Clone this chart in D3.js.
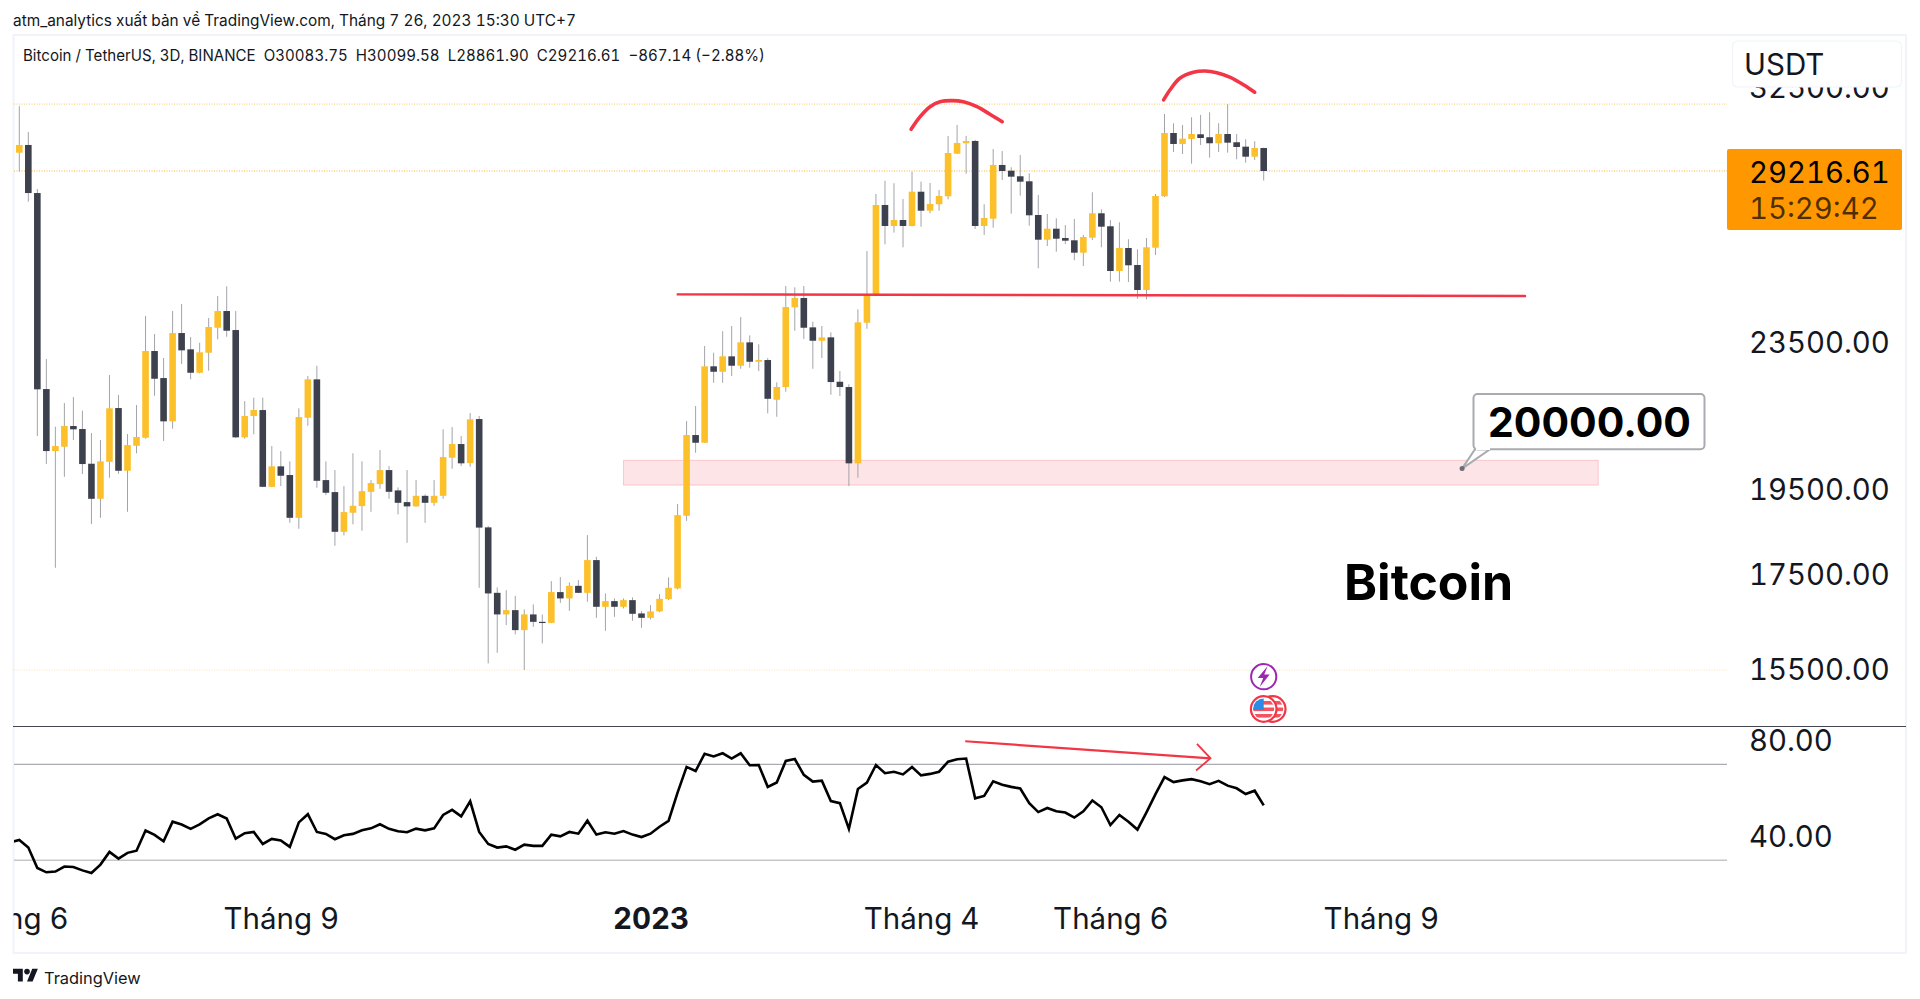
<!DOCTYPE html>
<html>
<head>
<meta charset="utf-8">
<script src="https://cdn.jsdelivr.net/npm/d3@7"></script>
<style>
html,body{margin:0;padding:0;background:#fff;overflow:hidden}
svg{display:block}
text{font-family:Inter,"Liberation Sans",sans-serif;fill:#131722;font-variant-numeric:tabular-nums;font-feature-settings:"tnum" 1}
</style>
</head>
<body>
<svg id="c" width="1920" height="999"></svg>
<script>
const firstCandle = -1;
const opens = [30470,29906,30201,28408,22133,20452,20565,21115,21034,20125,19246,20175,21604,19945,20591,20802,23231,22445,21241,23769,23281,22597,23180,23930,24445,23860,20813,21385,21549,19542,20058,19837,18786,21339,22408,19710,19411,18454,18907,19068,19418,19610,19963,19453,19165,19061,19319,19148,19319,20279,20636,20142,21303,18558,17074,16611,16702,16282,16611,16455,16434,17090,16953,17227,17074,17801,16773,16895,16773,16916,16632,16539,16675,16938,17170,18834,20874,20670,22783,22626,23074,22800,23489,22916,22966,21833,22190,24560,24853,23942,23537,23639,22340,22190,20135,24083,24971,27979,27241,27449,27241,28456,27776,28004,28291,29868,30267,30356,27241,27495,29442,29228,29021,28836,27625,26769,27147,26827,26749,26330,26838,27685,27231,25723,26488,25921,25108,26498,28291,30665,30240,30433,30615,30500,30267,30626,30306,30136,29754,30083.75];
const highs = [30560,31735,30704,28555,22995,21096,21742,21909,21530,20927,20741,22531,21965,20900,21687,24290,23739,23025,24445,24664,23649,23477,24228,24917,25227,24445,21797,21890,21890,20583,20452,20186,21596,22503,22800,20186,19963,19560,20393,20186,19710,20478,20065,19527,19963,19710,19354,19710,21026,21087,20847,21467,21385,18589,17192,17133,17009,16717,16824,16611,17331,17420,17302,17353,18377,17875,17061,16953,16953,16975,16681,16809,17046,17413,19117,21249,21659,23379,23180,23821,23982,24259,23699,23430,23025,22322,25235,25195,25235,24114,23982,23790,22646,22266,24498,26387,28374,28858,28764,28193,29191,28822,28775,28518,30550,30980,30550,30394,28004,30047,29971,29356,29819,29132,28338,27660,27509,27275,27484,26931,28435,27826,27449,27369,26783,26444,26827,28374,31417,31046,30980,31286,31377,31485,31046,31815,30626,30421,30344,30099.58];
const lows = [29860,29191,28097,20847,20117,17627,19793,20741,19862,18636,18786,19768,19869,18930,20393,20776,21945,20715,21042,22850,22408,22580,22655,23579,23658,20795,20776,20893,19535,19535,19560,18667,18525,21122,19518,19337,18128,18370,18629,18478,18930,19492,19246,18868,18198,19052,18667,19075,19246,19996,20065,20047,17183,15606,15819,16386,16193,15476,16351,16009,16428,16858,16687,17068,16880,16539,16268,16560,16738,16476,16330,16505,16660,16916,17148,18714,20408,20662,22311,22311,22503,22712,22742,22646,21459,21366,22057,23839,23588,22712,23025,21973,21937,19560,19768,23899,24917,26613,27010,26511,27225,27216,27685,27776,28182,29857,29117,27137,26931,27182,28884,27670,28313,27251,25811,26555,26363,26623,26076,25888,26759,26511,25375,25375,25366,24831,24812,26253,28266,29933,29857,29491,30201,29716,29933,29906,29656,29528,29629,28861.90];
const closes = [29906,30201,28408,22125,20452,20583,21115,21026,20117,19246,20186,21596,19945,20609,20821,23231,22425,21241,23769,23251,22597,23192,23952,24445,23839,20813,21385,21549,19542,20058,19819,18786,21358,22408,19692,19394,18454,18923,19075,19435,19635,19963,19418,19148,19061,19319,19148,19319,20297,20636,20135,21295,18553,17061,16611,16702,16282,16611,16455,16434,17090,16953,17227,17074,17801,16773,16895,16773,16916,16624,16539,16675,16944,17184,18851,20874,20670,22783,22626,23074,22800,23489,22916,22966,21860,22190,24570,24853,23930,23537,23639,22331,22190,20135,24095,24980,27979,27241,27449,27241,28456,27776,28015,28302,29895,30278,30356,27241,27519,29442,29217,29006,28822,27614,26769,27147,26803,26735,26330,26862,27685,27216,25723,26488,25911,25108,26511,28302,30665,30240,30445,30626,30470,30267,30626,30290,30124,29754,30084,29216.61];
const rsiValues = [37.5,38.5,35.3,26.8,25.0,25.3,27.4,27.2,25.8,24.7,28.2,33.5,30.7,33.1,34.0,42.4,40.6,37.9,46.1,44.9,43.1,45.0,47.5,49.2,47.4,39.0,41.3,41.8,36.8,38.9,38.3,35.6,45.8,49.2,41.8,41.0,38.8,40.4,41.0,42.5,43.3,45.0,43.1,42.1,41.7,43.2,42.5,43.3,48.9,51.0,48.3,54.6,41.8,36.8,35.3,35.8,34.4,36.5,36.0,36.0,40.7,40.0,41.8,41.1,46.5,40.7,41.7,41.1,42.2,40.7,39.7,41.1,44.0,46.4,58.2,68.9,67.2,74.4,73.3,74.6,72.4,74.6,69.6,69.7,60.6,62.4,71.4,72.2,65.6,62.8,63.2,54.7,53.8,43.1,59.7,62.4,69.7,66.3,66.9,65.8,68.9,65.4,66.0,66.9,71.1,72.1,72.4,55.8,56.8,62.9,61.5,60.6,59.9,53.8,50.1,51.8,50.4,49.9,47.8,50.4,54.9,52.1,44.7,48.9,46.1,42.8,50.0,57.6,64.7,62.6,63.3,63.8,62.9,61.7,63.1,61.1,60.0,57.6,59.0,52.9];

const priceTicks = [32500,27500,23500,19500,17500,15500];
const rsiTicks = [80,40];
const rsiBands = [70,30];
const timeTickIndex = [-1,29,70,100,121,151];
const timeTickLabels = ["Tháng 6","Tháng 9","2023","Tháng 4","Tháng 6","Tháng 9"];
const priceLevels = [31815,29216.61,15476];
const lastPrice = 29216.61, countdown = "15:29:42";
const headerText = "atm_analytics xuất bản về TradingView.com, Tháng 7 26, 2023 15:30 UTC+7";
const legendText = "Bitcoin / TetherUS, 3D, BINANCE\u00a0\u00a0O30083.75\u00a0\u00a0H30099.58\u00a0\u00a0L28861.90\u00a0\u00a0C29216.61\u00a0\u00a0−867.14 (−2.88%)";

const supportLine = [[72.9,24968],[167.1,24915]];
const zoneBand = {from:67, to:175.1, top:20212, bottom:19585};
const calloutPrice = 20000, calloutIndex = 160;
const arc1 = [[98.9,30810],[99.9,31310],[101,31710],[102.1,31910],[103.4,31955],[104.7,31910],[106.2,31710],[107.6,31417],[109,31110]];
const arc2 = [[126.9,31983],[127.6,32392],[128.7,32880],[130.2,33132],[131.5,33186],[132.8,33115],[134.3,32920],[135.8,32600],[137,32300]];
const rsiArrow = [[104.9,79.6],[132.1,72.5]];
const rsiArrowHead = [[130.6,78.5],[132.1,72.5],[130.5,67.4]];

const RED="#f23645", GOLD="#fcc02c", DARK="#3e414d", BORDER="#f0f3fa";
const paneL=14, paneR=1727, frameR=1906, tickFont=29.3;

const svg=d3.select("#c");
const x=d3.scaleLinear().domain([0,138]).range([19.3,1263.7]);
const y=d3.scaleLog().domain([15476,29216.61]).range([670,171]);
const yR=d3.scaleLinear().domain([30,70]).range([860.3,764.3]);

const defs=svg.append("defs");
defs.append("clipPath").attr("id","pane").append("rect").attr("x",paneL).attr("y",36).attr("width",frameR-paneL).attr("height",916);
defs.append("filter").attr("id","soft").attr("x","-5%").attr("y","-5%").attr("width","110%").attr("height","110%")
  .append("feGaussianBlur").attr("stdDeviation",0.35);

// header
svg.append("text").attr("x",13).attr("y",26).attr("font-size",15.6).attr("textLength",563).attr("lengthAdjust","spacingAndGlyphs").text(headerText);
// frame
svg.append("rect").attr("x",13.5).attr("y",35).attr("width",frameR-13.5).attr("height",918)
  .attr("fill","#fff").attr("stroke",BORDER).attr("stroke-width",2);
// legend
svg.append("text").attr("x",23).attr("y",61).attr("font-size",15.6).attr("textLength",742).attr("lengthAdjust","spacingAndGlyphs").text(legendText);

const pane=svg.append("g").attr("clip-path","url(#pane)");

// price level dotted lines
pane.append("g").selectAll("line").data(priceLevels).join("line")
  .attr("x1",paneL).attr("x2",paneR).attr("y1",d=>y(d)).attr("y2",d=>y(d))
  .attr("stroke","#f7a600").attr("stroke-dasharray","1 1.5")
  .attr("stroke-opacity",(d,i)=>[0.6,0.8,0.3][i]);

// zone
pane.append("rect")
  .attr("x",x(zoneBand.from)).attr("width",x(zoneBand.to)-x(zoneBand.from))
  .attr("y",y(zoneBand.top)).attr("height",y(zoneBand.bottom)-y(zoneBand.top))
  .attr("fill",RED).attr("fill-opacity",0.13).attr("stroke",RED).attr("stroke-opacity",0.22).attr("stroke-width",1);

// candles
const idx=d3.range(opens.length).map(i=>i+firstCandle);
const candles=pane.append("g").attr("filter","url(#soft)");
const rowOf=k=>k-firstCandle;
candles.append("g").selectAll("line").data(idx).join("line")
  .attr("x1",d=>x(d)).attr("x2",d=>x(d))
  .attr("y1",d=>y(highs[rowOf(d)])).attr("y2",d=>y(lows[rowOf(d)]))
  .attr("stroke","#a3a4aa").attr("stroke-width",1);
const bw=6.6;
candles.append("g").selectAll("rect").data(idx).join("rect")
  .attr("x",d=>x(d)-bw/2).attr("width",bw)
  .attr("y",d=>y(Math.max(opens[rowOf(d)],closes[rowOf(d)])))
  .attr("height",d=>Math.max(1.2,Math.abs(y(opens[rowOf(d)])-y(closes[rowOf(d)]))))
  .attr("fill",d=>closes[rowOf(d)]>=opens[rowOf(d)]?GOLD:DARK);

// hand-drawn annotations
const lineSmooth=d3.line().x(d=>x(d[0])).y(d=>y(d[1])).curve(d3.curveCatmullRom);
[arc1,arc2].forEach(a=>pane.append("path").attr("d",lineSmooth(a)).attr("fill","none")
  .attr("stroke",RED).attr("stroke-width",3.6).attr("stroke-linecap","round"));
const lineStraight=d3.line().x(d=>x(d[0])).y(d=>y(d[1]));
pane.append("path").attr("d",lineStraight(supportLine)).attr("stroke",RED).attr("stroke-width",2.4).attr("fill","none");

// RSI pane separator and bands
svg.append("line").attr("x1",13).attr("x2",frameR).attr("y1",726.5).attr("y2",726.5).attr("stroke","#434651").attr("stroke-width",1);
pane.append("g").selectAll("line").data(rsiBands).join("line")
  .attr("x1",paneL).attr("x2",paneR).attr("y1",d=>yR(d)).attr("y2",d=>yR(d))
  .attr("stroke",(d,i)=>i?"#c5c6ca":"#9598a1").attr("stroke-width",(d,i)=>i?1.5:1);

// RSI line
const rsiLine=d3.line().x((d,i)=>x(i+firstCandle)).y(d=>yR(d));
pane.append("path").attr("d",rsiLine(rsiValues)).attr("fill","none").attr("stroke","#000").attr("stroke-width",2.6)
  .attr("stroke-linejoin","miter").attr("filter","url(#soft)");
const rsiPts=d3.line().x(d=>x(d[0])).y(d=>yR(d[1]));
pane.append("path").attr("d",rsiPts(rsiArrow)).attr("fill","none").attr("stroke",RED).attr("stroke-width",2.2);
pane.append("path").attr("d",rsiPts(rsiArrowHead)).attr("fill","none").attr("stroke",RED).attr("stroke-width",1.8);

// event icons
const evX=x(138);
const evg=svg.append("g");
evg.append("circle").attr("cx",evX).attr("cy",676.7).attr("r",12.6).attr("fill","#fff").attr("stroke","#9c27b0").attr("stroke-width",2);
evg.append("path").attr("d",`M${evX+4},${666} L${evX-6},${678} L${evX-0.5},${678} L${evX-4},${687} L${evX+6},${674.5} L${evX+0.5},${674.5} Z`).attr("fill","#9c27b0");
function flag(cx,cy,withCanton){
  const id="f"+Math.round(cx);
  defs.append("clipPath").attr("id",id).append("circle").attr("cx",cx).attr("cy",cy).attr("r",10.5);
  const g=evg.append("g");
  g.append("circle").attr("cx",cx).attr("cy",cy).attr("r",12.8).attr("fill","#fff").attr("stroke",RED).attr("stroke-width",2.2);
  const fg=g.append("g").attr("clip-path",`url(#${id})`);
  [-8,-1.5,5].forEach(o=>fg.append("rect").attr("x",cx-13).attr("y",cy+o).attr("width",26).attr("height",3.6).attr("fill",RED).attr("fill-opacity",.85));
  if(withCanton) fg.append("rect").attr("x",cx-13).attr("y",cy-13).attr("width",13).attr("height",14).attr("fill","#2a8ce6");
}
flag(evX+9,709,false);
flag(evX,709,true);

// price axis
const axisR=d3.axisRight(y).tickValues(priceTicks).tickFormat(d3.format(".2f")).tickSize(0).tickPadding(0);
const axR=svg.append("g").attr("transform",`translate(1749,0)`).call(axisR);
axR.select(".domain").remove();
axR.selectAll("text").attr("font-size",tickFont).attr("dy","0.36em").style("fill","#131722");
// rsi axis
const axisRr=d3.axisRight(yR).tickValues(rsiTicks).tickFormat(d3.format(".2f")).tickSize(0).tickPadding(0);
const axRr=svg.append("g").attr("transform",`translate(1749,0)`).call(axisRr);
axRr.select(".domain").remove();
axRr.selectAll("text").attr("font-size",tickFont).attr("dy","0.36em").style("fill","#131722");
// time axis
const axisB=d3.axisBottom(x).tickValues(timeTickIndex).tickFormat((d,i)=>timeTickLabels[i]).tickSize(0).tickPadding(0);
const axB=svg.append("g").attr("transform","translate(0,929)").call(axisB);
axB.select(".domain").remove();
axB.selectAll("text").attr("font-size",29.5).attr("dy",0).style("fill","#131722")
  .attr("font-weight",(d,i)=>timeTickLabels[i]==="2023"?700:400).attr("text-anchor","middle");
axB.selectAll(".tick").filter(d=>d<0).each(function(){
  defs.append("clipPath").attr("id","xl").append("rect").attr("x",13.5).attr("y",-40).attr("width",200).attr("height",60);
  const t=d3.select(this), tr=t.attr("transform");
  t.attr("transform",null);
  const m=/translate\(([^,]+)/.exec(tr);
  t.select("text").attr("x",+m[1]);
  t.attr("clip-path","url(#xl)");
});

// price badge
svg.append("rect").attr("x",1727).attr("y",149).attr("width",175).attr("height",81).attr("rx",2).attr("fill","#ff9800");
svg.append("text").attr("x",1749).attr("y",183).attr("font-size",tickFont).style("fill","#000").text(d3.format(".2f")(lastPrice));
svg.append("text").attr("x",1749).attr("y",219).attr("font-size",tickFont).style("fill","#000").style("fill-opacity",.7).text(countdown);

// currency box
svg.append("rect").attr("x",1732.5).attr("y",41).attr("width",169).attr("height",46).attr("rx",5).attr("fill","#fff").attr("stroke",BORDER).attr("stroke-width",1.2);
svg.append("text").attr("x",1744).attr("y",75).attr("font-size",29.5).text("USDT");

// callout
const cx=x(calloutIndex), cy=y(calloutPrice);
svg.append("path").attr("d",`M${cx},${cy} L1475,449.3 L1490,449.3 Z`).attr("fill","#fff").attr("stroke","#a9abb0").attr("stroke-width",2);
svg.append("rect").attr("x",1473.5).attr("y",394).attr("width",231).attr("height",55.3).attr("rx",4).attr("fill","#fff").attr("stroke","#a9abb0").attr("stroke-width",2);
svg.append("rect").attr("x",1476).attr("y",446).attr("width",14).attr("height",4).attr("fill","#fff");
svg.append("circle").attr("cx",cx).attr("cy",cy).attr("r",2.5).attr("fill","#6a6d78");
svg.append("text").attr("x",1589.5).attr("y",437).attr("text-anchor","middle").attr("font-size",41).attr("font-weight",700)
  .style("fill","#000").style("font-variant-numeric","normal").style("font-feature-settings","normal").text(d3.format(".2f")(calloutPrice));
// Bitcoin label
svg.append("text").attr("x",1344).attr("y",600).attr("font-size",50).attr("font-weight",700).style("fill","#000").text("Bitcoin");

// footer logo + wordmark
const logo=svg.append("g").attr("transform","translate(13,966) scale(0.7)").attr("fill","#131722");
logo.append("path").attr("d","M14 22H7V11H0V4h14v18zM28 22h-8l7.5-18h8L28 22z");
logo.append("circle").attr("cx",20).attr("cy",8).attr("r",4);
svg.append("text").attr("x",44).attr("y",984).attr("font-size",16.4).text("TradingView");
</script>
</body>
</html>
